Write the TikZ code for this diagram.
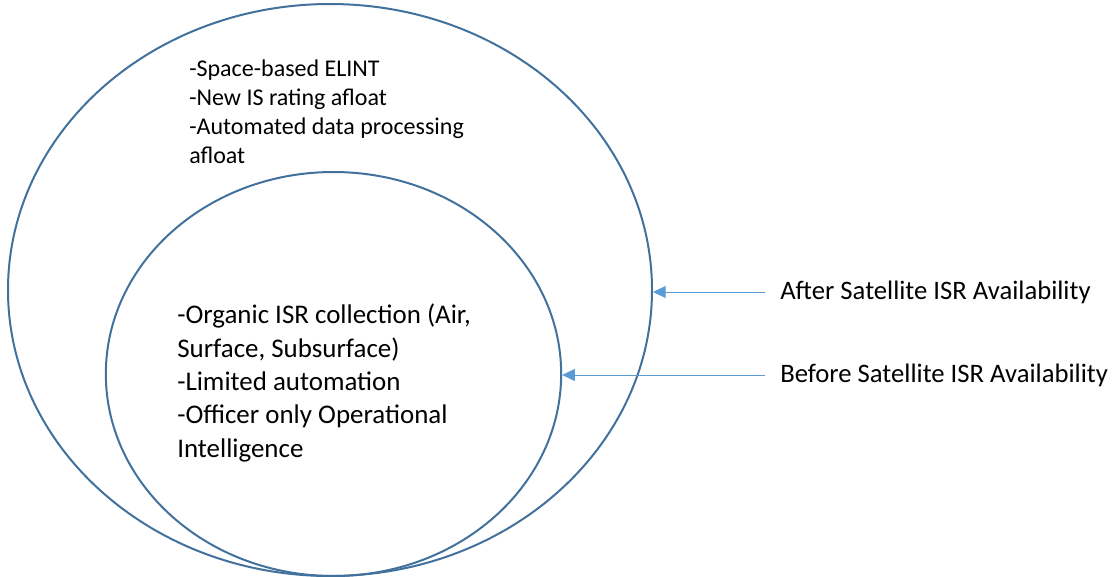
\documentclass[tikz,border=0pt]{standalone}
\usepackage{fontspec}
\setmainfont{Carlito}
\usepackage{tikz}
\usetikzlibrary{arrows.meta,positioning,shapes.geometric}
\usepackage{xcolor}
\definecolor{ringblue}{HTML}{41719C}
\definecolor{arrowblue}{HTML}{5B9BD5}

\begin{document}
\begin{tikzpicture}[x=0.75pt, y=-0.75pt]
\tikzset{
    myring/.style={ellipse, draw=ringblue, line width=1.5pt, inner sep=0pt},
    myarrow/.style={-{Triangle[length=9.5pt,width=9pt]}, draw=arrowblue, fill=arrowblue, line width=0.75pt, shorten <=11pt},
    mylist/.style={align=left, inner sep=0pt, anchor=base west},
    mylabel/.style={inner sep=0pt, anchor=west, font=\fontsize{20}{24}\selectfont}
}
\useasboundingbox (0,0) rectangle (1115,576);

\node[myring, minimum width=483pt, minimum height=429pt] (outer) at (330,290) {};
\node[myring, minimum width=341.5pt, minimum height=303pt] (inner) at (333.5,374) {};

% base anchor of a multi-line node sits on its last line
\node[mylist, font=\fontsize{18}{21.6}\selectfont] (spacelist) at (189,163)
    {-Space-based ELINT\\-New IS rating afloat\\-Automated data processing\\afloat};
\node[mylist, font=\fontsize{20.2}{25}\selectfont] (organiclist) at (177,457)
    {-Organic ISR collection (Air,\\Surface, Subsurface)\\-Limited automation\\-Officer only Operational\\Intelligence};

\node[mylabel] (after) at (780,292) {After Satellite ISR Availability};
\node[mylabel] (before) at (780,375) {Before Satellite ISR Availability};

\draw[myarrow] (after.west) -- (outer.east |- after.west);
\draw[myarrow] (before.west) -- (inner.east |- before.west);

\end{tikzpicture}
\end{document}
